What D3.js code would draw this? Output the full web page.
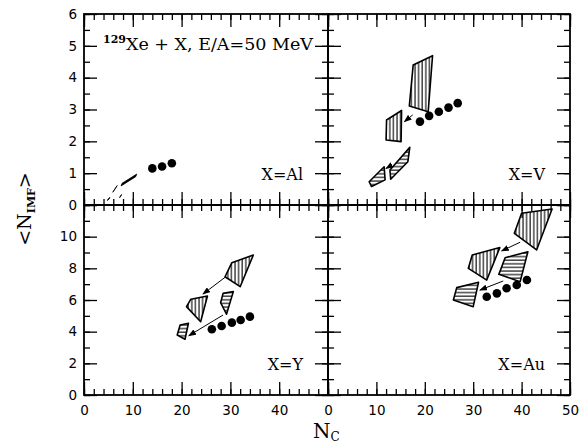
<!DOCTYPE html>
<html>
<head>
<meta charset="utf-8">
<script src="https://cdn.jsdelivr.net/npm/d3@7"></script>
<style>
  html, body { margin: 0; padding: 0; background: #fff; }
  svg { display: block; }
</style>
</head>
<body>
<svg id="chart" width="587" height="444"></svg>
<script>
// <N_IMF> versus N_C for 129Xe + X at E/A = 50 MeV, four targets.
// Filled circles: measured points. Hatched regions: calculated bands
// (vertical hatching and horizontal hatching), arrows link related bands.

const ncMajor = [0, 10, 20, 30, 40, 50];
const ncMinor = d3.range(0, 51, 2);
const imfMajorTop = [0, 1, 2, 3, 4, 5, 6];
const imfMinorTop = d3.range(0, 6.01, 0.5);
const imfMajorBottom = [0, 2, 4, 6, 8, 10, 12];
const imfMinorBottom = d3.range(0, 13, 1);

const targets = ["Al", "V", "Y", "Au"];

// --- X = Al
const alDots = [[14, 1.15], [16, 1.21], [18, 1.31]];
const alSolidBands = [
  [[7.6, 0.60], [10.6, 0.89], [10.8, 0.97], [7.8, 0.68]],
  [[5.9, 0.40], [6.6, 0.56], [6.8, 0.61], [6.1, 0.45]],
  [[4.8, 0.14], [5.2, 0.20], [5.3, 0.24], [4.9, 0.18]],
  [[7.3, 0.23], [7.6, 0.29], [7.7, 0.33], [7.4, 0.27]]
];

// --- X = V
const vDots = [[19.0, 2.62], [20.9, 2.80], [22.9, 2.93], [24.9, 3.06], [26.8, 3.20]];
const vVertBands = [
  [[17.6, 4.40], [21.6, 4.69], [20.7, 2.93], [16.8, 3.11]],
  [[12.1, 2.67], [15.2, 2.97], [15.1, 1.99], [12.0, 2.04]]
];
const vHorzBands = [
  [[16.9, 1.81], [16.5, 1.36], [12.95, 0.81], [12.8, 1.10]],
  [[11.6, 1.20], [11.8, 0.79], [9.0, 0.58], [8.5, 0.73]]
];
const vArrows = [
  [[17.5, 2.83], [15.8, 2.62]],
  [[13.2, 1.26], [12.0, 1.15]]
];

// --- X = Y
const yDots = [[26.2, 4.15], [28.2, 4.36], [30.3, 4.57], [32.1, 4.74], [34.0, 4.95]];
const yVertBands = [
  [[28.9, 7.47], [30.3, 8.36], [34.7, 8.84], [32.0, 6.84]],
  [[21.0, 5.58], [21.9, 6.05], [25.3, 6.25], [23.9, 4.63]]
];
const yHorzBands = [
  [[28.0, 5.83], [28.5, 6.42], [30.6, 6.53], [29.2, 5.10]],
  [[19.1, 3.79], [19.7, 4.42], [21.4, 4.53], [20.7, 3.52]]
];
const yArrows = [
  [[28.9, 7.43], [24.4, 6.38]],
  [[28.5, 5.05], [21.5, 3.75]]
];

// --- X = Au
const auDots = [[32.8, 6.21], [34.9, 6.42], [36.9, 6.74], [39.0, 6.95], [41.1, 7.26]];
const auVertBands = [
  [[38.5, 10.21], [40.0, 11.48], [46.3, 11.75], [43.1, 9.16]],
  [[29.0, 8.00], [29.8, 8.84], [35.5, 9.31], [32.8, 7.26]]
];
const auHorzBands = [
  [[35.3, 7.62], [36.6, 8.67], [41.3, 9.05], [39.7, 7.16]],
  [[25.9, 6.00], [26.6, 6.78], [31.1, 7.12], [30.0, 5.58]]
];
const auArrows = [
  [[39.7, 9.65], [35.9, 9.10]],
  [[36.2, 7.20], [31.4, 6.63]]
];

// ---------------------------------------------------------------
const svg = d3.select("#chart");
const tickFont = "DejaVu Sans, sans-serif";
const serifFont = "DejaVu Serif, serif";

const colX = [[84, 328], [328, 570]];
const rowY = [[14, 205], [205, 395]];

const panels = [
  { name: targets[0], col: 0, row: 0, dots: alDots, vert: [], horz: [], solid: alSolidBands, arrows: [] },
  { name: targets[1], col: 1, row: 0, dots: vDots, vert: vVertBands, horz: vHorzBands, solid: [], arrows: vArrows },
  { name: targets[2], col: 0, row: 1, dots: yDots, vert: yVertBands, horz: yHorzBands, solid: [], arrows: yArrows },
  { name: targets[3], col: 1, row: 1, dots: auDots, vert: auVertBands, horz: auHorzBands, solid: [], arrows: auArrows }
];

// hatch patterns and arrowhead
const defs = svg.append("defs");
const hv = defs.append("pattern").attr("id", "hatch-v")
  .attr("patternUnits", "userSpaceOnUse").attr("width", 3.6).attr("height", 10);
hv.append("line").attr("x1", 1).attr("x2", 1).attr("y1", 0).attr("y2", 10)
  .attr("stroke", "#000").attr("stroke-width", 1.1);
const hh = defs.append("pattern").attr("id", "hatch-h")
  .attr("patternUnits", "userSpaceOnUse").attr("width", 10).attr("height", 3.6);
hh.append("line").attr("x1", 0).attr("x2", 10).attr("y1", 1).attr("y2", 1)
  .attr("stroke", "#000").attr("stroke-width", 1.1);
defs.append("marker").attr("id", "arrowhead")
  .attr("markerUnits", "userSpaceOnUse")
  .attr("markerWidth", 8).attr("markerHeight", 6)
  .attr("refX", 7).attr("refY", 3).attr("orient", "auto")
  .append("path").attr("d", "M0,0 L8,3 L0,6 Z").attr("fill", "#000");

const major = 13, minor = 6;

panels.forEach(p => {
  const [x0, x1] = colX[p.col];
  const [y0, y1] = rowY[p.row];
  const yMax = p.row === 0 ? 6 : 12;
  const x = d3.scaleLinear().domain([0, 50]).range([x0, x1]);
  const y = d3.scaleLinear().domain([0, yMax]).range([y1, y0]);
  const g = svg.append("g").attr("class", "panel-" + p.name);

  const yMaj = p.row === 0 ? imfMajorTop : imfMajorBottom;
  const yMin = p.row === 0 ? imfMinorTop : imfMinorBottom;

  const xLabel = d => (p.row === 1 && (p.col === 1 || d < 50)) ? String(d) : "";
  const yLabel = d => (p.col === 0 && (p.row === 0 || d < 12)) ? String(d) : "";

  function addAxis(axis, tx, ty) {
    const a = g.append("g").attr("transform", `translate(${tx},${ty})`).call(axis);
    a.select(".domain").remove();
    a.selectAll(".tick line").attr("stroke", "#000").attr("stroke-width", 1.3);
    a.selectAll(".tick text").attr("font-family", tickFont).attr("font-size", 13.5).attr("fill", "#000");
    return a;
  }

  // bottom
  addAxis(d3.axisBottom(x).tickValues(ncMinor).tickSize(-minor).tickFormat(""), 0, y1);
  addAxis(d3.axisBottom(x).tickValues(ncMajor).tickSize(-major).tickPadding(10).tickFormat(xLabel), 0, y1);
  // top
  addAxis(d3.axisTop(x).tickValues(ncMinor).tickSize(-minor).tickFormat(""), 0, y0);
  addAxis(d3.axisTop(x).tickValues(ncMajor).tickSize(-major).tickFormat(""), 0, y0);
  // left
  addAxis(d3.axisLeft(y).tickValues(yMin).tickSize(-minor).tickFormat(""), x0, 0);
  addAxis(d3.axisLeft(y).tickValues(yMaj).tickSize(-major).tickPadding(7).tickFormat(yLabel), x0, 0);
  // right
  addAxis(d3.axisRight(y).tickValues(yMin).tickSize(-minor).tickFormat(""), x1, 0);
  addAxis(d3.axisRight(y).tickValues(yMaj).tickSize(-major).tickFormat(""), x1, 0);

  // frame
  g.append("rect").attr("x", x0).attr("y", y0).attr("width", x1 - x0).attr("height", y1 - y0)
    .attr("fill", "none").attr("stroke", "#000").attr("stroke-width", 1.8);

  const poly = d3.line().x(d => x(d[0])).y(d => y(d[1])).curve(d3.curveLinearClosed);

  g.selectAll("path.band-v").data(p.vert).join("path").attr("class", "band-v")
    .attr("d", poly).attr("fill", "url(#hatch-v)").attr("stroke", "#000")
    .attr("stroke-width", 1.6).attr("stroke-linejoin", "round");
  g.selectAll("path.band-h").data(p.horz).join("path").attr("class", "band-h")
    .attr("d", poly).attr("fill", "url(#hatch-h)").attr("stroke", "#000")
    .attr("stroke-width", 1.6).attr("stroke-linejoin", "round");
  g.selectAll("path.band-s").data(p.solid).join("path").attr("class", "band-s")
    .attr("d", poly).attr("fill", "#000").attr("stroke", "#000")
    .attr("stroke-width", 0.8).attr("stroke-linejoin", "round");

  g.selectAll("line.arrow").data(p.arrows).join("line").attr("class", "arrow")
    .attr("x1", d => x(d[0][0])).attr("y1", d => y(d[0][1]))
    .attr("x2", d => x(d[1][0])).attr("y2", d => y(d[1][1]))
    .attr("stroke", "#000").attr("stroke-width", 1).attr("marker-end", "url(#arrowhead)");

  g.selectAll("circle.dot").data(p.dots).join("circle").attr("class", "dot")
    .attr("cx", d => x(d[0])).attr("cy", d => y(d[1])).attr("r", 4.3).attr("fill", "#000");

  // target label
  g.append("text").attr("x", x1 - 25).attr("y", p.row === 0 ? 180 : 370)
    .attr("text-anchor", "end").attr("font-family", serifFont).attr("font-size", 16)
    .attr("fill", "#000").text("X=" + p.name);
});

// reaction title
const title = svg.append("text").attr("x", 103).attr("y", 50)
  .attr("font-family", serifFont).attr("font-size", 17.5).attr("fill", "#000");
title.append("tspan").attr("font-size", 11).attr("dy", -7).attr("font-weight", "bold").text("129");
title.append("tspan").attr("dy", 7).text("Xe + X, E/A=50 MeV");

// axis titles
const xt = svg.append("text").attr("x", 313).attr("y", 438)
  .attr("font-family", serifFont).attr("font-size", 20).attr("fill", "#000");
xt.append("tspan").text("N");
xt.append("tspan").attr("font-size", 12).attr("dy", 3).text("C");

const yt = svg.append("text").attr("transform", "translate(31,209) rotate(-90)")
  .attr("text-anchor", "middle").attr("font-family", serifFont).attr("font-size", 19).attr("fill", "#000");
yt.append("tspan").text("<N");
yt.append("tspan").attr("font-size", 11).attr("font-weight", "bold").attr("dy", 4).text("IMF");
yt.append("tspan").attr("dy", -4).text(">");
</script>
</body>
</html>
